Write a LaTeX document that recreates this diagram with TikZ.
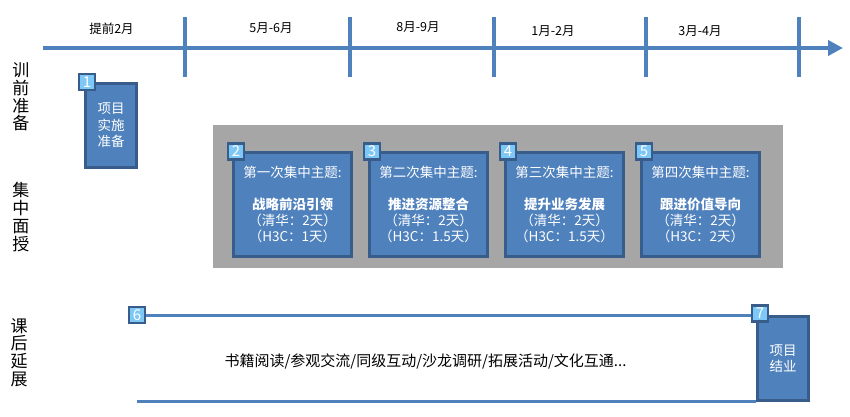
\documentclass[tikz,border=0pt]{standalone}
\usepackage{fontspec}
\setmainfont{Noto Sans CJK SC}
\usepackage{xcolor}
\usetikzlibrary{positioning,calc,arrows.meta}

\definecolor{lineblue}{HTML}{4F81BD}
\definecolor{boxfill}{HTML}{4F81BD}
\definecolor{boxline}{HTML}{385D8A}
\definecolor{badgefill}{HTML}{7DC8F7}
\definecolor{panelgray}{HTML}{A6A6A6}

\begin{document}
\begin{tikzpicture}[x=1pt, y=-1pt,
    topic/.style={rectangle, draw=boxline, fill=boxfill, line width=3pt, minimum width=118pt, minimum height=104pt, inner sep=0pt, text=white, align=center, font=\fontsize{13.5}{16}\selectfont},
    stagebox/.style={rectangle, draw=boxline, fill=boxfill, line width=3pt, minimum width=51pt, minimum height=84pt, inner sep=0pt, text=white, align=center, font=\fontsize{13.5}{16.5}\selectfont},
    badge/.style={rectangle, draw=boxline, fill=badgefill, line width=2.5pt, minimum size=16pt, inner sep=0pt, text=white, font=\fontsize{15}{15}\selectfont},
    period/.style={font=\fontsize{12.5}{12.5}\selectfont},
    phase/.style={align=center, font=\fontsize{17}{17.7}\selectfont},
    axis/.style={-{Triangle[length=15pt,width=15pt]}, line width=4.5pt, lineblue},
    tickline/.style={line width=3.3pt, lineblue},
    rule/.style={line width=3pt, lineblue}]

    \useasboundingbox (0,0) rectangle (850,416);

    % timeline
    \coordinate (axstart) at (43,48);
    \coordinate (axend) at (843,48);
    \draw[axis] (axstart) -- (axend);
    \draw[tickline] (185,17) -- (185,77);
    \draw[tickline] (350,17) -- (350,77);
    \draw[tickline] (494,17) -- (494,77);
    \draw[tickline] (646,17) -- (646,77);
    \draw[tickline] (799,17) -- (799,77);

    \node[period] (p1) at (111.5,29) {提前2月};
    \node[period] (p2) at (271,28) {5月-6月};
    \node[period] (p3) at (418,27) {8月-9月};
    \node[period] (p4) at (553,31) {1月-2月};
    \node[period] (p5) at (700,31) {3月-4月};

    % phases on the left
    \node[phase] (pre) at (21,97) {训\\前\\准\\备};
    \node[phase] (mid) at (21,217) {集\\中\\面\\授};
    \node[phase] (post) at (19,352.5) {课\\后\\延\\展};

    % preparation
    \node[stagebox] (b1) at (111,125.5) {项目\\实施\\准备};
    \node[badge] (n1) at ($(b1.north west)+(3,0)$) {1};

    % concentrated sessions
    \node[rectangle, fill=panelgray, minimum width=570pt, minimum height=143pt, inner sep=0pt] (panel) at (498,196.5) {};
    \node[topic] (b2) at (292.5,204) {第一次集中主题:\\[16pt] {\bfseries 战略前沿引领}\\（清华：2天）\\（H3C：1天）};
    \node[topic, right=15pt of b2] (b3) {第二次集中主题:\\[16pt] {\bfseries 推进资源整合}\\（清华：2天）\\（H3C：1.5天）};
    \node[topic, right=15pt of b3] (b4) {第三次集中主题:\\[16pt] {\bfseries 提升业务发展}\\（清华：2天）\\（H3C：1.5天）};
    \node[topic, right=15pt of b4] (b5) {第四次集中主题:\\[16pt] {\bfseries 跟进价值导向}\\（清华：2天）\\（H3C：2天）};
    \node[badge] (n2) at ($(b2.north west)+(4,1)$) {2};
    \node[badge] (n3) at ($(b3.north west)+(4,1)$) {3};
    \node[badge] (n4) at ($(b4.north west)+(4,1)$) {4};
    \node[badge] (n5) at ($(b5.north west)+(4,1)$) {5};

    % follow-up
    \node[stagebox] (b7) at (783,358.5) {项目\\结业};
    \node[badge] (n6) at (137,315) {6};
    \coordinate (lowstart) at (137,401);
    \draw[rule] (n6.east) -- (b7.west |- n6.east);
    \draw[rule] (lowstart) -- (b7.west |- lowstart);
    \node[badge] (n7) at ($(b7.north west)+(4,-1.5)$) {7};
    \node[font=\fontsize{15}{15}\selectfont] (acts) at (425.5,361) {书籍阅读/参观交流/同级互动/沙龙调研/拓展活动/文化互通...};
\end{tikzpicture}
\end{document}
